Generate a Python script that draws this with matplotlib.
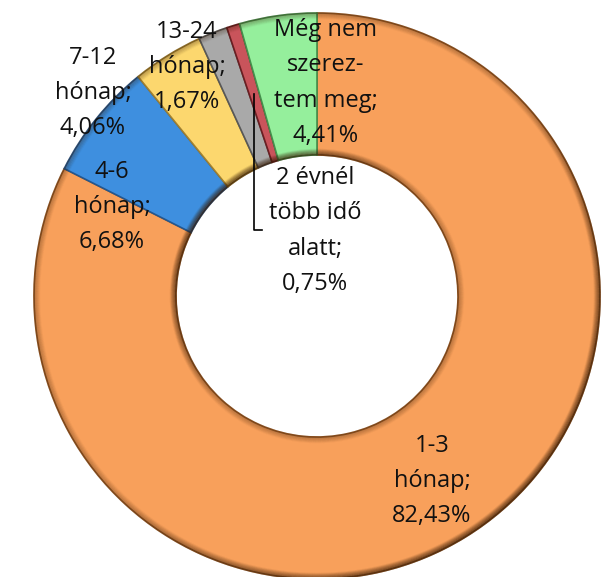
import numpy as np
import matplotlib
matplotlib.use("Agg")
import matplotlib.pyplot as plt
from matplotlib.patches import Wedge
from matplotlib.collections import LineCollection

# ---- data ----
categories = ["1-3\nhónap", "4-6\nhónap", "7-12\nhónap", "13-24\nhónap",
              "2 évnél\ntöbb idő\nalatt", "Még nem\nszerez-\ntem meg"]
values = [82.43, 6.68, 4.06, 1.67, 0.75, 4.41]
colors = ["#F8A05B", "#3E8FDF", "#FCD76E", "#A9A9A9", "#C9545B", "#95EF9C"]
edge_colors = ["#9A5A25", "#24578F", "#A08030", "#585858", "#6A1E22", "#458F4C"]

W, H = 605, 577
fig = plt.figure(figsize=(W / 100, H / 100), dpi=100)
ax = fig.add_axes([0, 0, 1, 1])

cx, cy_px = 317, 296
cy = H - cy_px
R, r_in = 283, 141
width = R - r_in

wedges, _ = ax.pie(values, colors=colors, startangle=90, counterclock=False,
                   radius=R, center=(cx, cy), frame=True,
                   wedgeprops=dict(width=width, linewidth=1.2))
for w, ec in zip(wedges, edge_colors):
    w.set_edgecolor(ec)

# bevel: inner lighter band
for w, c in zip(wedges, colors):
    t1, t2 = w.theta1, w.theta2
    span = t2 - t1
    pad = min(1.8, span * 0.2)
    b = Wedge((cx, cy), R - 7, t1 + pad, t2 - pad, width=width - 14,
              facecolor=c, edgecolor="none", zorder=2)
    ax.add_patch(b)

ax.set_xlim(0, W)
ax.set_ylim(0, H)
ax.set_aspect("equal")
ax.axis("off")

# directional soft shadows on rims (light from top-left)
ang = np.radians(np.linspace(0, 360, 721))
light = np.radians(-45)
def rim(radius, strength, phase):
    pts = np.column_stack([cx + radius * np.cos(ang), cy + radius * np.sin(ang)])
    segs = np.stack([pts[:-1], pts[1:]], axis=1)
    mid = (ang[:-1] + ang[1:]) / 2
    f = 0.35 + 0.65 * np.clip(np.cos(mid - phase), 0, 1)
    cols = np.zeros((len(mid), 4))
    cols[:, 0], cols[:, 1], cols[:, 2] = 0.22, 0.11, 0.02
    cols[:, 3] = strength * f
    ax.add_collection(LineCollection(segs, colors=cols, linewidths=1.3, zorder=3))

for k in range(7):
    s = 0.55 * (7 - k) / 7
    rim(R - k * 0.9, s, light)
    rim(r_in + k * 0.9, s, light + np.pi)

labels = [f"{c};\n{v:.2f}%".replace(".", ",") for c, v in zip(categories, values)]
label_pos_px = [(432, 481), (112, 207), (93, 93), (187, 67), (315, 231), (326, 83)]

font = dict(family=["Open Sans", "DejaVu Sans"], fontsize=17, color="#111111",
            ha="center", va="center", linespacing=1.62, zorder=5)
for lab, (px, py) in zip(labels, label_pos_px):
    ax.text(px, H - py, lab, **font)

# leader line for the small red slice
cum = np.cumsum([0] + values)
mid = (cum[4] + cum[5]) / 2 / 100 * 360
rm = (R + r_in) / 2
x0 = cx + rm * np.sin(np.radians(mid))
y0 = cy + rm * np.cos(np.radians(mid))
ax.plot([x0, x0, x0 + 8], [y0, H - 230, H - 230], color="black", lw=1.2, zorder=6)

fig.savefig("out.png", dpi=100)
